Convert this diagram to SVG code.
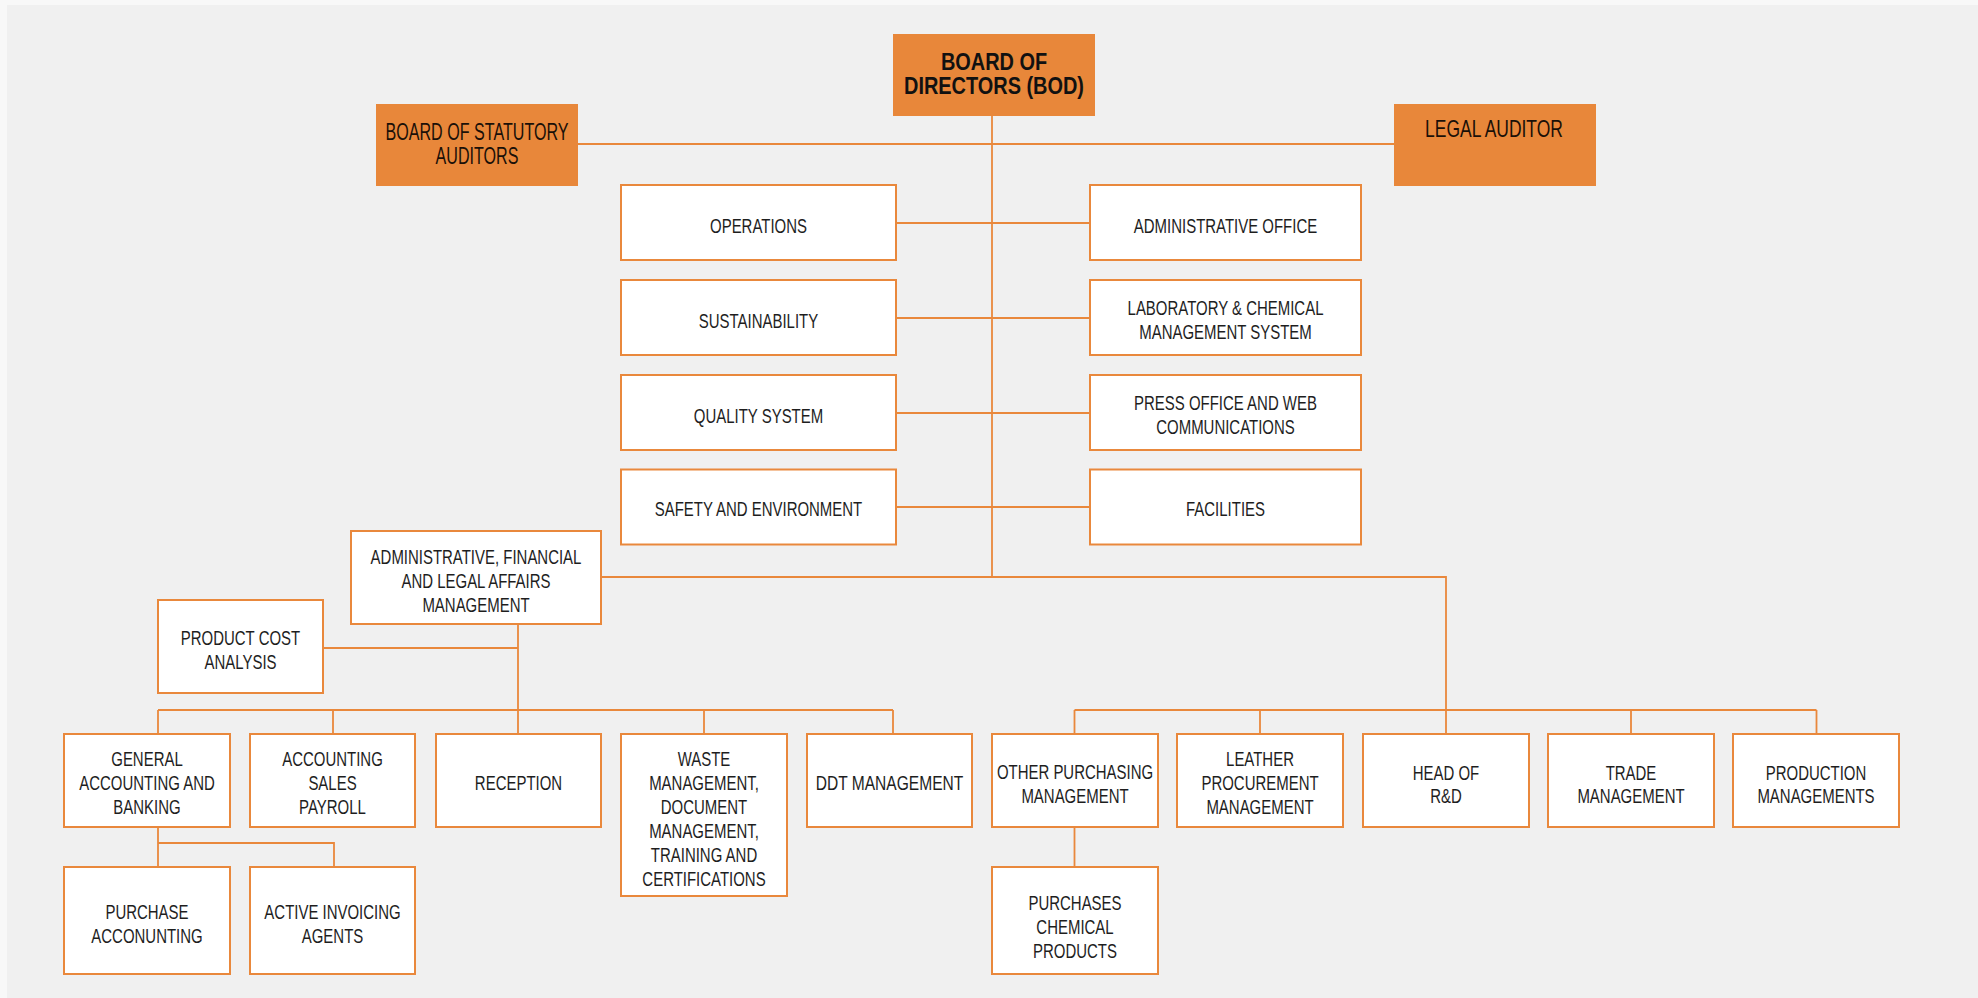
<svg xmlns="http://www.w3.org/2000/svg" width="1978" height="998" viewBox="0 0 1978 998">
<style>
.bx{fill:#ffffff;stroke:#e9883c;stroke-width:2}
.ob{fill:#e8873a}
.t{font-family:"Liberation Sans",Arial,sans-serif;font-size:20.5px;fill:#1e1e1e;text-anchor:middle}
.ot{font-family:"Liberation Sans",Arial,sans-serif;font-size:23px;fill:#1a1008;text-anchor:middle}
.bt{font-family:"Liberation Sans",Arial,sans-serif;font-size:24px;font-weight:bold;fill:#111;text-anchor:middle}
.ln{fill:none;stroke:#e9883c;stroke-width:1.8}
</style>
<rect x="0" y="0" width="1978" height="998" fill="#f8f8f8"/>
<rect x="7" y="5" width="1971" height="993" fill="#f0f0f0"/>
<g id="connectors" class="ln">
<path d="M992 116V577"/>
<path d="M578 144H1394"/>
<path d="M896 223H1090M896 318H1090M896 413H1090M896 507H1090"/>
<path d="M601 577H1446V734"/>
<path d="M1074.5 710H1816.5M1074.5 710V734M1260 710V734M1631 710V734M1816.5 710V734"/>
<path d="M518 624V734M323 648H518"/>
<path d="M158 710H893M158 710V734M333 710V734M704 710V734M893 710V734"/>
<path d="M158 827V867M158 843H334V867"/>
<path d="M1074.5 827V867"/>
</g>
<g id="bod"><rect class="ob" x="893" y="34" width="202" height="82"/>
<text class="bt" transform="matrix(0.83 0 0 1 994 0)"><tspan x="0" y="70.5">BOARD OF</tspan><tspan x="0" y="94.5">DIRECTORS (BOD)</tspan></text></g>
<g id="statutory"><rect class="ob" x="376" y="104" width="202" height="82"/>
<text class="ot" transform="matrix(0.70 0 0 1 477 0)"><tspan x="0" y="140.5">BOARD OF STATUTORY</tspan><tspan x="0" y="164.5">AUDITORS</tspan></text></g>
<g id="legal"><rect class="ob" x="1394" y="104" width="202" height="82"/>
<text class="ot" transform="matrix(0.76 0 0 1 1494 0)"><tspan x="0" y="137.5">LEGAL AUDITOR</tspan></text></g>

<g id="operations"><rect class="bx" x="621" y="185" width="275" height="75"/>
<text class="t" transform="matrix(0.73 0 0 1 758.5 0)"><tspan x="0" y="232.7">OPERATIONS</tspan></text></g>
<g id="sustainability"><rect class="bx" x="621" y="280" width="275" height="75"/>
<text class="t" transform="matrix(0.73 0 0 1 758.5 0)"><tspan x="0" y="327.7">SUSTAINABILITY</tspan></text></g>
<g id="quality"><rect class="bx" x="621" y="375" width="275" height="75"/>
<text class="t" transform="matrix(0.73 0 0 1 758.5 0)"><tspan x="0" y="422.7">QUALITY SYSTEM</tspan></text></g>
<g id="safety"><rect class="bx" x="621" y="469.5" width="275" height="75"/>
<text class="t" transform="matrix(0.73 0 0 1 758.5 0)"><tspan x="0" y="516.3">SAFETY AND ENVIRONMENT</tspan></text></g>

<g id="admin-office"><rect class="bx" x="1090" y="185" width="271" height="75"/>
<text class="t" transform="matrix(0.73 0 0 1 1225.5 0)"><tspan x="0" y="232.7">ADMINISTRATIVE OFFICE</tspan></text></g>
<g id="laboratory"><rect class="bx" x="1090" y="280" width="271" height="75"/>
<text class="t" transform="matrix(0.73 0 0 1 1225.5 0)"><tspan x="0" y="315.3">LABORATORY &amp; CHEMICAL</tspan><tspan x="0" y="339.3">MANAGEMENT SYSTEM</tspan></text></g>
<g id="press"><rect class="bx" x="1090" y="375" width="271" height="75"/>
<text class="t" transform="matrix(0.73 0 0 1 1225.5 0)"><tspan x="0" y="410.3">PRESS OFFICE AND WEB</tspan><tspan x="0" y="434.3">COMMUNICATIONS</tspan></text></g>
<g id="facilities"><rect class="bx" x="1090" y="469.5" width="271" height="75"/>
<text class="t" transform="matrix(0.73 0 0 1 1225.5 0)"><tspan x="0" y="516.3">FACILITIES</tspan></text></g>

<g id="afl"><rect class="bx" x="351" y="531" width="250" height="93"/>
<text class="t" transform="matrix(0.73 0 0 1 476 0)"><tspan x="0" y="564">ADMINISTRATIVE, FINANCIAL</tspan><tspan x="0" y="588">AND LEGAL AFFAIRS</tspan><tspan x="0" y="612">MANAGEMENT</tspan></text></g>
<g id="product-cost"><rect class="bx" x="158" y="600" width="165" height="93"/>
<text class="t" transform="matrix(0.73 0 0 1 240.5 0)"><tspan x="0" y="645.3">PRODUCT COST</tspan><tspan x="0" y="669.3">ANALYSIS</tspan></text></g>

<g id="general"><rect class="bx" x="64" y="734" width="166" height="93"/>
<text class="t" transform="matrix(0.73 0 0 1 147 0)"><tspan x="0" y="766.3">GENERAL</tspan><tspan x="0" y="790.3">ACCOUNTING AND</tspan><tspan x="0" y="814.3">BANKING</tspan></text></g>
<g id="accounting"><rect class="bx" x="250" y="734" width="165" height="93"/>
<text class="t" transform="matrix(0.73 0 0 1 332.5 0)"><tspan x="0" y="766.3">ACCOUNTING</tspan><tspan x="0" y="790.3">SALES</tspan><tspan x="0" y="814.3">PAYROLL</tspan></text></g>
<g id="reception"><rect class="bx" x="436" y="734" width="165" height="93"/>
<text class="t" transform="matrix(0.73 0 0 1 518.5 0)"><tspan x="0" y="790.3">RECEPTION</tspan></text></g>
<g id="waste"><rect class="bx" x="621" y="734" width="166" height="162"/>
<text class="t" transform="matrix(0.73 0 0 1 704 0)"><tspan x="0" y="766.3">WASTE</tspan><tspan x="0" y="790.3">MANAGEMENT,</tspan><tspan x="0" y="814">DOCUMENT</tspan><tspan x="0" y="838.5">MANAGEMENT,</tspan><tspan x="0" y="862">TRAINING AND</tspan><tspan x="0" y="886">CERTIFICATIONS</tspan></text></g>
<g id="ddt"><rect class="bx" x="807" y="734" width="165" height="93"/>
<text class="t" transform="matrix(0.76 0 0 1 889.5 0)"><tspan x="0" y="790.3">DDT MANAGEMENT</tspan></text></g>

<g id="other-purchasing"><rect class="bx" x="992" y="734" width="166" height="93"/>
<text class="t" transform="matrix(0.73 0 0 1 1075 0)"><tspan x="0" y="778.7">OTHER PURCHASING</tspan><tspan x="0" y="802.7">MANAGEMENT</tspan></text></g>
<g id="leather"><rect class="bx" x="1177" y="734" width="166" height="93"/>
<text class="t" transform="matrix(0.73 0 0 1 1260 0)"><tspan x="0" y="766.3">LEATHER</tspan><tspan x="0" y="790.3">PROCUREMENT</tspan><tspan x="0" y="814.3">MANAGEMENT</tspan></text></g>
<g id="rnd"><rect class="bx" x="1363" y="734" width="166" height="93"/>
<text class="t" transform="matrix(0.73 0 0 1 1446 0)"><tspan x="0" y="779.7">HEAD OF</tspan><tspan x="0" y="803.3">R&amp;D</tspan></text></g>
<g id="trade"><rect class="bx" x="1548" y="734" width="166" height="93"/>
<text class="t" transform="matrix(0.73 0 0 1 1631 0)"><tspan x="0" y="779.7">TRADE</tspan><tspan x="0" y="803.3">MANAGEMENT</tspan></text></g>
<g id="production"><rect class="bx" x="1733" y="734" width="166" height="93"/>
<text class="t" transform="matrix(0.73 0 0 1 1816 0)"><tspan x="0" y="779.7">PRODUCTION</tspan><tspan x="0" y="803.3">MANAGEMENTS</tspan></text></g>

<g id="purchase-accounting"><rect class="bx" x="64" y="867" width="166" height="107"/>
<text class="t" transform="matrix(0.73 0 0 1 147 0)"><tspan x="0" y="919.3">PURCHASE</tspan><tspan x="0" y="943">ACCONUNTING</tspan></text></g>
<g id="active-invoicing"><rect class="bx" x="250" y="867" width="165" height="107"/>
<text class="t" transform="matrix(0.73 0 0 1 332.5 0)"><tspan x="0" y="919.3">ACTIVE INVOICING</tspan><tspan x="0" y="943">AGENTS</tspan></text></g>
<g id="purchases-chemical"><rect class="bx" x="992" y="867" width="166" height="107"/>
<text class="t" transform="matrix(0.73 0 0 1 1075 0)"><tspan x="0" y="910.3">PURCHASES</tspan><tspan x="0" y="934.3">CHEMICAL</tspan><tspan x="0" y="958.3">PRODUCTS</tspan></text></g>
</svg>
